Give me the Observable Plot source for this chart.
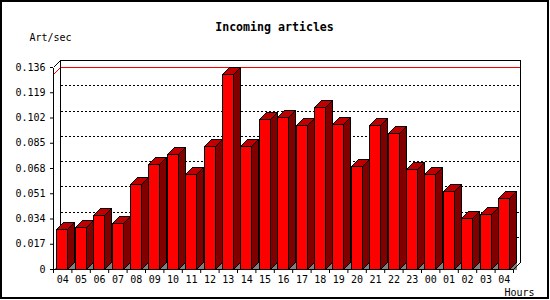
<!DOCTYPE html>
<html><head><meta charset="utf-8">
<script src="https://cdn.jsdelivr.net/npm/d3@7"></script>
<script src="https://cdn.jsdelivr.net/npm/@observablehq/plot@0.6"></script>
<style>body{margin:0;background:#fff} svg{display:block}</style>
</head><body><div id="chart"></div>
<script>
const title = "Incoming articles";
const yLabel = "Art/sec";
const xLabel = "Hours";
const hours = ["04","05","06","07","08","09","10","11","12","13","14","15","16","17","18","19","20","21","22","23","00","01","02","03","04"];
const values = [0.0269,0.0283,0.0364,0.0310,0.0572,0.0705,0.0774,0.0640,0.0828,0.1311,0.0828,0.1010,0.1023,0.0970,0.1090,0.0974,0.0693,0.0970,0.0916,0.0671,0.0640,0.0525,0.0341,0.0368,0.0476];
const yTicks = [0,0.017,0.034,0.051,0.068,0.085,0.102,0.119,0.136];

const rows = hours.map((h, i) => ({i, hour: h, value: values[i]}));
const D = 7;
const maxV = d3.max(values);
const px = v => Math.round(v) + 0.5;

function line(g, x1, y1, x2, y2, stroke = "black", dash = null) {
  const l = g.append("line").attr("x1", x1).attr("y1", y1).attr("x2", x2).attr("y2", y2)
    .attr("stroke", stroke).attr("stroke-width", 1);
  if (dash) l.attr("stroke-dasharray", dash);
}

const border = () => {
  const g = d3.create("svg:g");
  g.append("rect").attr("x", 1).attr("y", 1).attr("width", 547).attr("height", 297)
    .attr("fill", "none").attr("stroke", "black").attr("stroke-width", 2);
  return g.node();
};

const walls = (I, {x, y}) => {
  const g = d3.create("svg:g").attr("shape-rendering", "crispEdges");
  const x0 = px(x(0)), x1 = px(x(hours.length)), y0 = px(y(0)), yT = px(y(yTicks[yTicks.length - 1]));
  for (const t of yTicks.slice(1, -1)) {
    const yy = px(y(t));
    line(g, x0, yy, x0 + D, yy - D, "black", "1,2");
    line(g, x0 + D, yy - D, x1 + D, yy - D, "black", "2,2");
  }
  const ym = px(y(maxV));
  line(g, x0, ym, x0 + D, ym - D, "#ff0000");
  line(g, x0 + D, ym - D, x1 + D, ym - D, "#ff0000");
  line(g, x0 + D, yT - D, x1 + D, yT - D);
  line(g, x0 + D, yT - D, x0 + D, y0 - D);
  line(g, x1 + D, yT - D, x1 + D, y0 - D);
  line(g, x0, yT, x0 + D, yT - D);
  // small floor shadow by left wall
  g.append("path").attr("d", `M${x0},${y0}L${x0 + 3},${y0 - 3}L${x0 + 3},${y0}Z`).attr("fill", "#808080");
  return g.node();
};

const bars = (I, {x, y}) => {
  const g = d3.create("svg:g").attr("shape-rendering", "crispEdges");
  const b = px(y(0));
  for (const r of rows) {
    const l = Math.round(x(r.i) + 3.4) + 0.5, rr = l + 11, t = px(y(r.value));
    g.append("path").attr("d", `M${rr},${b}L${rr + D},${b - D}L${rr + D},${b}Z`).attr("fill", "#808080");
    g.append("path").attr("d", `M${rr},${t}L${rr + D},${t - D}L${rr + D},${b - D}L${rr},${b}Z`)
      .attr("fill", "#800000").attr("stroke", "black");
    g.append("path").attr("d", `M${l},${t}L${rr},${t}L${rr + D},${t - D}L${l + D},${t - D}Z`)
      .attr("fill", "#c00000").attr("stroke", "black");
    g.append("rect").attr("x", l).attr("y", t).attr("width", 11).attr("height", b - t)
      .attr("fill", "#ff0000").attr("stroke", "black");
  }
  return g.node();
};

const front = (I, {x, y}) => {
  const g = d3.create("svg:g").attr("shape-rendering", "crispEdges");
  const x0 = px(x(0)), x1 = px(x(hours.length)), y0 = px(y(0)), yT = px(y(yTicks[yTicks.length - 1]));
  line(g, x0, yT, x0, y0);
  line(g, x0, y0, x1, y0);
  line(g, x1, y0, x1 + D, y0 - D);
  return g.node();
};

const chart = Plot.plot({
  width: 550, height: 300,
  marginLeft: 53, marginRight: 37, marginTop: 67, marginBottom: 31,
  style: {fontFamily: "'DejaVu Sans Mono', monospace", fontSize: "10px", color: "black", background: "white"},
  x: {domain: [0, hours.length], axis: null},
  y: {domain: [0, yTicks[yTicks.length - 1]], axis: null},
  marks: [
    border,
    walls,
    bars,
    front,
    Plot.axisY(yTicks, {tickSize: 3, tickPadding: 5, tickFormat: d => d === 0 ? "0" : d.toFixed(3), label: null, fontSize: 10}),
    Plot.axisX(d3.range(hours.length + 1), {tickSize: 4, tickFormat: () => "", label: null}),
    Plot.axisX(d3.range(hours.length).map(i => i + 0.5), {tickSize: 0, tickPadding: 6, tickFormat: d => hours[Math.floor(d)], label: null, fontSize: 10}),
    Plot.text([title], {frameAnchor: "top", lineAnchor: "middle", dx: -9, dy: -40, fontWeight: "bold", fontSize: 11.6}),
    Plot.text([yLabel], {frameAnchor: "top-left", lineAnchor: "middle", textAnchor: "middle", dx: -3, dy: -30, fontSize: 10}),
    Plot.text([xLabel], {frameAnchor: "bottom-right", lineAnchor: "middle", textAnchor: "middle", dx: 6, dy: 23, fontSize: 10})
  ]
});
document.getElementById("chart").append(chart);
</script>
</body></html>
